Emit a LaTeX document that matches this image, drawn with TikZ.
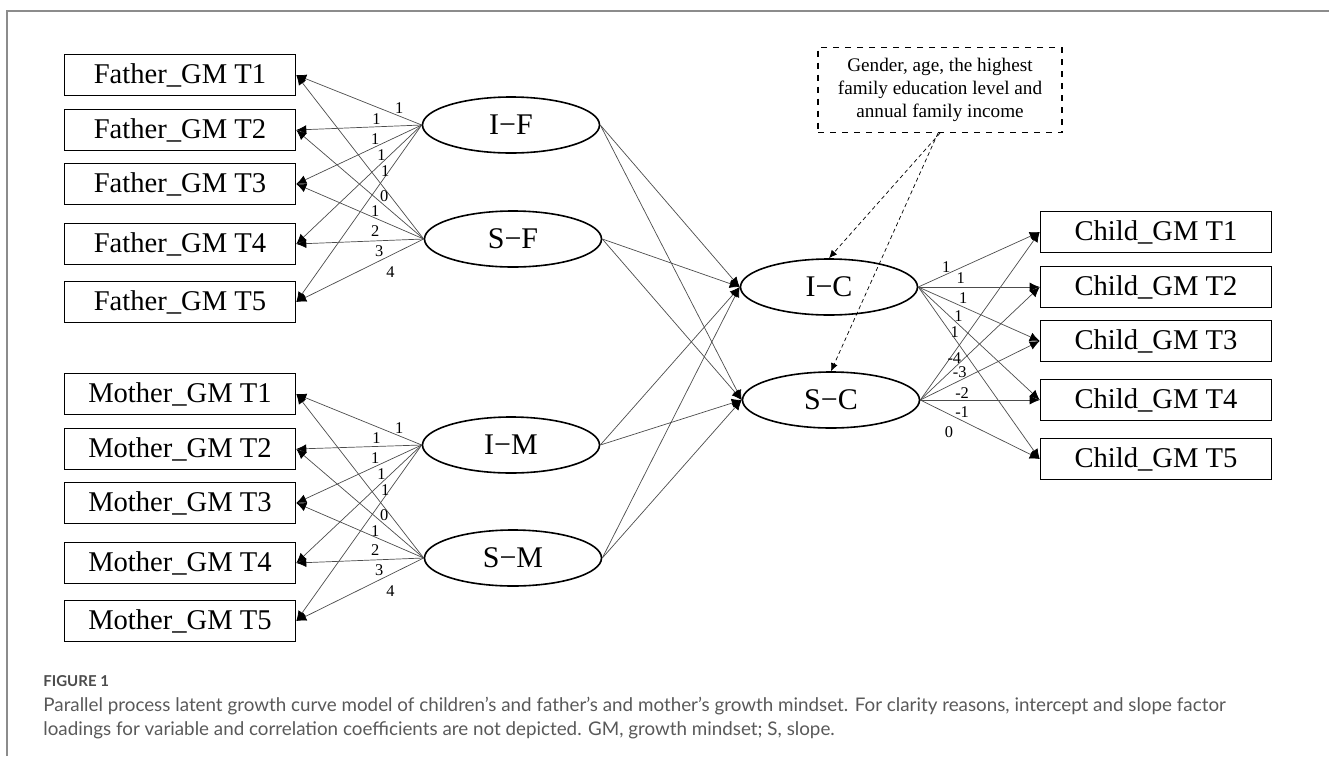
\documentclass[tikz,border=0pt]{standalone}
\usepackage{fontspec}
\setmainfont{Liberation Serif}
\newfontfamily\capfont{Lato}
\usetikzlibrary{shapes.geometric, arrows.meta}
\tikzstyle{obs} = [rectangle, minimum width=115.5pt, minimum height=20.5pt, inner sep=0pt, draw=black, line width=0.8pt, font=\fontsize{14.3}{16}\selectfont]
\tikzstyle{latent} = [ellipse, minimum width=88.5pt, minimum height=28pt, inner sep=0pt, draw=black, line width=0.8pt, font=\fontsize{15}{17}\selectfont]
\tikzstyle{covar} = [rectangle, dashed, draw=black, line width=0.6pt, minimum width=122pt, minimum height=42.5pt, inner sep=0pt, align=center, font=\fontsize{9.6}{11.5}\selectfont]
\tikzstyle{arrow} = [-{Latex[length=5pt,width=4.5pt,black]}, draw=black!70, line width=0.35pt]
\tikzstyle{darrow} = [-{Latex[length=4pt,width=3.5pt]}, draw=black, line width=0.35pt, dash pattern=on 2pt off 1.5pt]
\tikzstyle{lab} = [inner sep=0pt, font=\fontsize{8.2}{9}\selectfont]

\begin{document}
\begin{tikzpicture}[x=0.5pt, y=-0.5pt]
\useasboundingbox (0,0) rectangle (1329,756);
\draw [black!45, line width=0.8pt] (7,756) -- (7,11) -- (1329,11);

\node (f1) [obs] at (180,75) {Father\_GM T1};
\node (f2) [obs] at (180,130) {Father\_GM T2};
\node (f3) [obs] at (180,184) {Father\_GM T3};
\node (f4) [obs] at (180,244) {Father\_GM T4};
\node (f5) [obs] at (180,302) {Father\_GM T5};
\node (m1) [obs] at (180,394) {Mother\_GM T1};
\node (m2) [obs] at (180,449) {Mother\_GM T2};
\node (m3) [obs] at (180,503) {Mother\_GM T3};
\node (m4) [obs] at (180,563) {Mother\_GM T4};
\node (m5) [obs] at (180,621) {Mother\_GM T5};
\node (c1) [obs] at (1156,232) {Child\_GM T1};
\node (c2) [obs] at (1156,287) {Child\_GM T2};
\node (c3) [obs] at (1156,341) {Child\_GM T3};
\node (c4) [obs] at (1156,400) {Child\_GM T4};
\node (c5) [obs] at (1156,459) {Child\_GM T5};

\node (IF) [latent] at (511,125) {I−F};
\node (SF) [latent] at (513,239) {S−F};
\node (IM) [latent] at (511,445) {I−M};
\node (SM) [latent] at (513,558) {S−M};
\node (IC) [latent] at (829,287) {I−C};
\node (SC) [latent] at (831,400) {S−C};

\node (cov) [covar] at (940,90) {Gender, age, the highest\\family education level and\\annual family income};

% father
\draw [arrow] (IF.west) -- node[lab, pos=0.18, yshift=4pt] {1} (f1.east);
\draw [arrow] (IF.west) -- node[lab, pos=0.36, yshift=4pt] {1} (f2.east);
\draw [arrow] (IF.west) -- node[lab, pos=0.37, yshift=4pt] {1} (f3.east);
\draw [arrow] (IF.west) -- node[lab, pos=0.32, yshift=4.2pt] {1} (f4.east);
\draw [arrow] (IF.west) -- node[lab, pos=0.29, yshift=2.8pt] {1} (f5.east);
\draw [arrow] (SF.west) -- node[lab, pos=0.31, yshift=-4.2pt] {0} (f1.east);
\draw [arrow] (SF.west) -- node[lab, pos=0.38, yshift=-7pt] {1} (f2.east);
\draw [arrow] (SF.west) -- node[lab, pos=0.38, yshift=-6.3pt] {2} (f3.east);
\draw [arrow] (SF.west) -- node[lab, pos=0.35, yshift=-5pt] {3} (f4.east);
\draw [arrow] (SF.west) -- node[lab, pos=0.26, yshift=-8.2pt] {4} (f5.east);

% mother
\draw [arrow] (IM.west) -- node[lab, pos=0.18, yshift=4pt] {1} (m1.east);
\draw [arrow] (IM.west) -- node[lab, pos=0.36, yshift=4pt] {1} (m2.east);
\draw [arrow] (IM.west) -- node[lab, pos=0.37, yshift=4pt] {1} (m3.east);
\draw [arrow] (IM.west) -- node[lab, pos=0.32, yshift=4.2pt] {1} (m4.east);
\draw [arrow] (IM.west) -- node[lab, pos=0.29, yshift=2.8pt] {1} (m5.east);
\draw [arrow] (SM.west) -- node[lab, pos=0.31, yshift=-4.2pt] {0} (m1.east);
\draw [arrow] (SM.west) -- node[lab, pos=0.38, yshift=-7pt] {1} (m2.east);
\draw [arrow] (SM.west) -- node[lab, pos=0.38, yshift=-6.3pt] {2} (m3.east);
\draw [arrow] (SM.west) -- node[lab, pos=0.35, yshift=-5pt] {3} (m4.east);
\draw [arrow] (SM.west) -- node[lab, pos=0.26, yshift=-8.2pt] {4} (m5.east);

% parents to child
\draw [arrow] (IF.east) -- (IC.west);
\draw [arrow] (IF.east) -- (SC.west);
\draw [arrow] (SF.east) -- (IC.west);
\draw [arrow] (SF.east) -- (SC.west);
\draw [arrow] (IM.east) -- (IC.west);
\draw [arrow] (IM.east) -- (SC.west);
\draw [arrow] (SM.east) -- (IC.west);
\draw [arrow] (SM.east) -- (SC.west);

% child
\draw [arrow] (IC.east) -- node[lab, pos=0.23, yshift=3.7pt] {1} (c1.west);
\draw [arrow] (IC.east) -- node[lab, pos=0.35, yshift=4.5pt] {1} (c2.west);
\draw [arrow] (IC.east) -- node[lab, pos=0.37, yshift=4.5pt] {1} (c3.west);
\draw [arrow] (IC.east) -- node[lab, pos=0.33, yshift=4.3pt] {1} (c4.west);
\draw [arrow] (IC.east) -- node[lab, pos=0.30, yshift=3.5pt] {1} (c5.west);
\draw [arrow] (SC.east) -- node[lab, pos=0.285, yshift=-3pt] {-4} (c1.west);
\draw [arrow] (SC.east) -- node[lab, pos=0.33, yshift=-4.8pt] {-3} (c2.west);
\draw [arrow] (SC.east) -- node[lab, pos=0.35, yshift=-7pt] {-2} (c3.west);
\draw [arrow] (SC.east) -- node[lab, pos=0.35, yshift=-6pt] {-1} (c4.west);
\draw [arrow] (SC.east) -- node[lab, pos=0.24, yshift=-9pt] {0} (c5.west);

% covariates
\draw [darrow] (cov.south) -- (IC.north);
\draw [darrow] ([xshift=-1pt]cov.south) -- (SC.north);

\node (fig) [anchor=west, inner sep=0pt, text=black!70, font=\capfont\bfseries\fontsize{7.5}{8}\selectfont] at (43,681) {FIGURE 1};
\node (cap) [anchor=north west, align=left, inner sep=0pt, text=black!65, font=\capfont\fontsize{9.4}{11.8}\selectfont] at (43,697) {Parallel process latent growth curve model of children’s and father’s and mother’s growth mindset. For clarity reasons, intercept and slope factor\\loadings for variable and correlation coefficients are not depicted. GM, growth mindset; S, slope.};
\end{tikzpicture}
\end{document}
